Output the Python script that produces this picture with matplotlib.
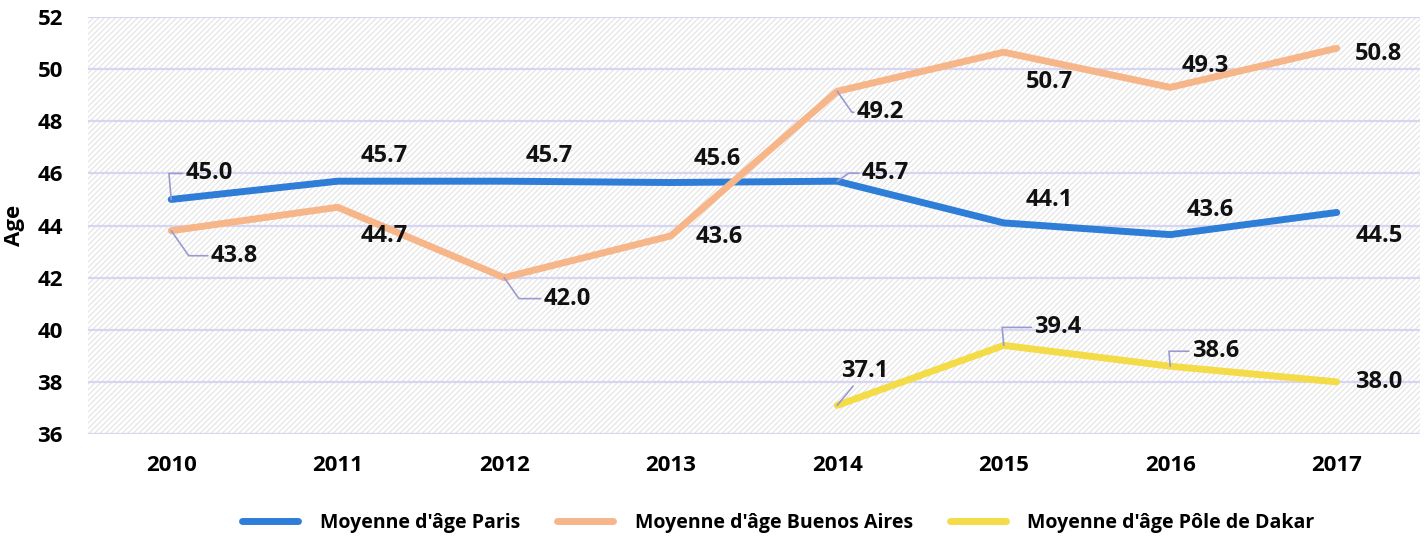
import matplotlib
matplotlib.use("Agg")
import matplotlib.pyplot as plt
from matplotlib.patches import Rectangle
import numpy as np

plt.rcParams['font.family'] = ['Open Sans', 'DejaVu Sans']
plt.rcParams['hatch.linewidth'] = 0.8

years = ["2010", "2011", "2012", "2013", "2014", "2015", "2016", "2017"]
paris = [45.0, 45.7, 45.7, 45.65, 45.7, 44.1, 43.65, 44.5]
paris_lbl = ["45.0", "45.7", "45.7", "45.6", "45.7", "44.1", "43.6", "44.5"]
buenos = [43.8, 44.7, 42.0, 43.6, 49.15, 50.65, 49.3, 50.8]
buenos_lbl = ["43.8", "44.7", "42.0", "43.6", "49.2", "50.7", "49.3", "50.8"]
dakar = [np.nan, np.nan, np.nan, np.nan, 37.1, 39.4, 38.6, 38.0]
dakar_lbl = ["", "", "", "", "37.1", "39.4", "38.6", "38.0"]

series_names = ["Moyenne d'âge Paris", "Moyenne d'âge Buenos Aires",
                "Moyenne d'âge Pôle de Dakar"]
colors = ["#2e7dd7", "#f6b68a", "#f4dc48"]

# label offsets in pixels (dx, dy) and leader line style (None = no line)
paris_off = [(38, 26), (47, 25), (45, 25), (47, 24), (48, 8), (46, 23), (40, 25), (42, -24)]
paris_lead = ["up", None, None, None, "diag_up", None, None, None]
buenos_off = [(63, -25), (47, -29), (63, -21), (49, -1), (43, -21), (46, -30), (35, 21), (42, -6)]
buenos_lead = ["diag_dn", None, "diag_dn", None, "diag_dn", None, None, None]
dakar_off = [(0, 0), (0, 0), (0, 0), (0, 0), (28, 34), (54, 18), (45, 15), (42, 0)]
dakar_lead = [None, None, None, None, "straight", "up", "up", None]

lead_styles = {
    "up": "angle,angleA=0,angleB=95,rad=0",
    "diag_up": "angle,angleA=0,angleB=35,rad=0",
    "diag_dn": "angle,angleA=0,angleB=-55,rad=0",
    "straight": "arc3,rad=0",
}

fig = plt.figure(figsize=(14.28, 5.4), dpi=100)
ax = fig.add_axes([0.0616, 0.1963, 0.9328, 0.7722])

x = np.arange(len(years))
ax.set_xlim(-0.5, len(years) - 0.5)
ax.set_ylim(36, 52)

# hatched background
ax.add_patch(Rectangle((0, 0), 1, 1, transform=ax.transAxes, facecolor="white",
                       edgecolor="#e3e3e3", hatch="//////", linewidth=0, zorder=0))

ax.set_yticks(np.arange(36, 53, 2))
ax.yaxis.grid(True, color="#d6d6f2", linewidth=1.6, zorder=1)
ax.set_axisbelow(True)
for s in ax.spines.values():
    s.set_visible(False)
ax.tick_params(length=0, labelsize=16)
ax.tick_params(axis="y", pad=18)
ax.tick_params(axis="x", pad=15)
ax.set_xticks(x)
ax.set_xticklabels(years)
for t in ax.get_xticklabels() + ax.get_yticklabels():
    t.set_fontweight("bold")
ax.set_ylabel("Age", fontsize=16, fontweight="bold")
ax.yaxis.set_label_coords(-0.047, 0.5)

all_vals = [paris, buenos, dakar]
all_lbls = [paris_lbl, buenos_lbl, dakar_lbl]
all_offs = [paris_off, buenos_off, dakar_off]
all_leads = [paris_lead, buenos_lead, dakar_lead]

handles = []
for vals, col, name in zip(all_vals, colors, series_names):
    h, = ax.plot(x, vals, color=col, linewidth=5, solid_capstyle="round",
                 solid_joinstyle="round", label=name, zorder=3)
    handles.append(h)

for vals, lbls, offs, leads in zip(all_vals, all_lbls, all_offs, all_leads):
    for i, v in enumerate(vals):
        if np.isnan(v):
            continue
        props = None
        if leads[i] is not None:
            props = dict(arrowstyle="-", color="#9a9ad0", linewidth=1.2,
                         connectionstyle=lead_styles[leads[i]], shrinkA=0, shrinkB=0)
        ax.annotate(lbls[i], xy=(x[i], v), xytext=offs[i], textcoords="offset pixels",
                    ha="center", va="center", fontsize=17, fontweight="bold",
                    color="#111111", arrowprops=props, zorder=4)

fig.legend(handles=handles, loc="lower center", bbox_to_anchor=(0.545, -0.02), ncol=3,
           frameon=False, handlelength=2.9, handletextpad=1.1, columnspacing=1.9,
           prop={"weight": "bold", "size": 14})

fig.savefig("out.png", dpi=100)
